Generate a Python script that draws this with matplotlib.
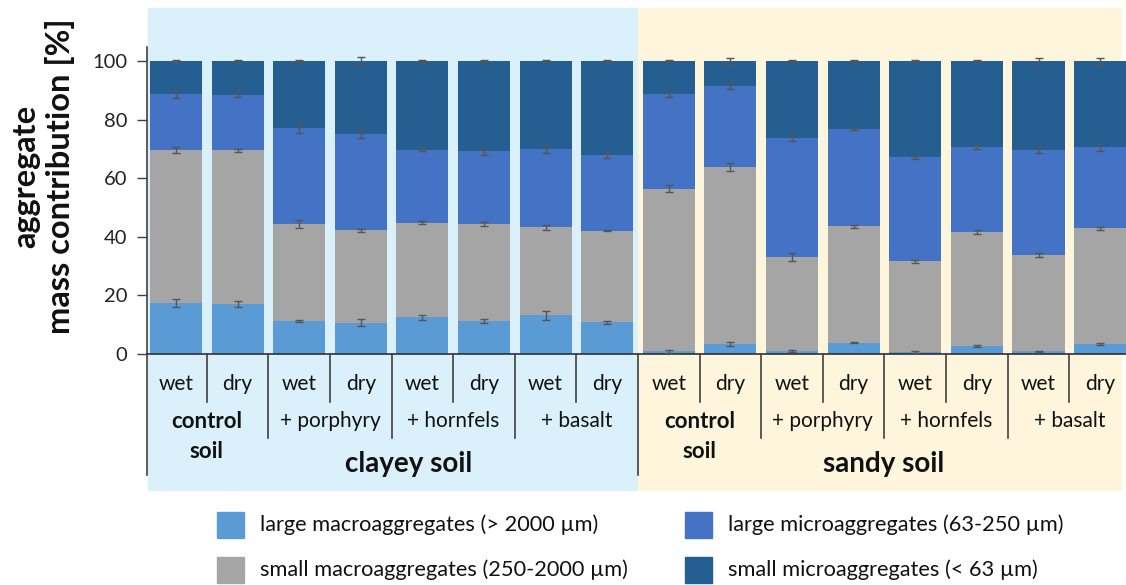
import numpy as np
import matplotlib
matplotlib.use('Agg')
import matplotlib.pyplot as plt
from matplotlib.patches import Rectangle
from matplotlib.lines import Line2D
import matplotlib.transforms as mtransforms

plt.rcParams['font.family'] = ['Lato', 'DejaVu Sans']

# bar labels
moisture = ['wet', 'dry'] * 8
treatments = ['control\nsoil', '+ porphyry', '+ hornfels', '+ basalt'] * 2
soils = ['clayey soil', 'sandy soil']

# segment values [%], bottom to top
large_macro = [17.5, 17.1, 11.3, 10.6, 12.5, 11.3, 13.2, 10.8,
               0.9, 3.5, 1.0, 3.9, 0.6, 2.7, 0.9, 3.5]
small_macro = [52.1, 52.5, 33.1, 31.7, 32.3, 33.0, 30.0, 31.3,
               55.5, 60.2, 32.1, 39.7, 31.1, 38.9, 33.0, 39.4]
large_micro = [19.0, 18.8, 32.6, 32.9, 24.8, 24.9, 26.9, 25.7,
               32.3, 27.9, 40.7, 33.2, 35.4, 29.2, 35.7, 27.6]
small_micro = [11.4, 11.6, 23.0, 24.8, 30.4, 30.8, 29.9, 32.2,
               11.3, 8.4, 26.2, 23.2, 32.9, 29.2, 30.4, 29.5]

# standard errors at top of each segment
err_large_macro = [1.4, 1.0, 0.4, 1.2, 0.9, 0.8, 1.6, 0.6,
                   0.5, 0.6, 0.2, 0.2, 0.4, 0.3, 0.2, 0.4]
err_small_macro = [0.9, 0.5, 1.4, 0.5, 0.5, 0.7, 0.9, 0.2,
                   1.2, 1.4, 1.5, 0.6, 0.5, 0.6, 0.7, 0.6]
err_large_micro = [1.2, 0.7, 1.7, 1.5, 0.3, 1.2, 1.5, 0.9,
                   0.8, 1.1, 1.2, 0.4, 0.4, 0.9, 0.9, 1.1]
err_small_micro = [0.5, 0.2, 0.3, 1.3, 0.2, 0.2, 0.4, 0.2,
                   0.3, 0.9, 0.3, 0.2, 0.2, 0.3, 1.1, 1.0]

series = [
    ('large macroaggregates (> 2000 µm)', large_macro, err_large_macro, '#5b9bd5'),
    ('small macroaggregates (250-2000 µm)', small_macro, err_small_macro, '#a5a5a5'),
    ('large microaggregates (63-250 µm)', large_micro, err_large_micro, '#4472c4'),
    ('small microaggregates (< 63 µm)', small_micro, err_small_micro, '#255e91'),
]

W, H = 1126, 585
fig = plt.figure(figsize=(W / 100, H / 100), dpi=100)


def fx(px):
    return px / W


def fy(py):
    return 1 - py / H


# background panels (behind the axes)
fig.patches.append(Rectangle((fx(148), fy(490)), fx(638 - 148), (490 - 8) / H,
                             transform=fig.transFigure, color='#daf1fb', zorder=-5))
fig.patches.append(Rectangle((fx(638), fy(490)), fx(1121 - 638), (490 - 8) / H,
                             transform=fig.transFigure, color='#fdf5dc', zorder=-5))

ax = fig.add_axes([fx(147), fy(354), fx(1126 - 147), (354 - 47) / H])
ax.patch.set_alpha(0)
ax.set_zorder(1)

x = np.arange(16)
bottom = np.zeros(16)
for label, vals, errs, col in series:
    vals = np.array(vals)
    ax.bar(x, vals, 0.845, bottom=bottom, color=col, label=label, zorder=2)
    bottom = bottom + vals
    ax.errorbar(x, bottom, yerr=errs, fmt='none', ecolor='#555555',
                elinewidth=1, capsize=3, capthick=1, zorder=3)

ax.set_xlim(-0.47, 15.42)
ax.set_ylim(0, 104.8)
ax.set_yticks([0, 20, 40, 60, 80, 100])
ax.tick_params(axis='y', length=7, width=1, color='#404040', pad=7,
               labelsize=14.5, labelcolor='#222222')
ax.set_xticks([])
for s in ['top', 'right', 'bottom']:
    ax.spines[s].set_visible(False)
ax.spines['left'].set_color('#404040')
ax.spines['left'].set_linewidth(1.2)

# category axis drawn below the bars
trans = mtransforms.blended_transform_factory(ax.transData, fig.transFigure)
ax.add_line(Line2D([-0.47, 15.42], [fy(354), fy(354)], transform=trans,
                   color='#303030', lw=1.2, clip_on=False))
ax.add_line(Line2D([-0.47, -0.47], [fy(354), fy(475)], transform=trans,
                   color='#404040', lw=1.2, clip_on=False))
for i in range(16):
    ax.text(i, fy(384), moisture[i], transform=trans, ha='center', va='center',
            fontsize=15, color='#111111')
for i in range(0, 16, 2):
    ax.add_line(Line2D([i + 0.5, i + 0.5], [fy(354), fy(402)], transform=trans,
                       color='#404040', lw=1.2, clip_on=False))
for xs in [1.5, 3.5, 5.5, 9.5, 11.5, 13.5]:
    ax.add_line(Line2D([xs, xs], [fy(354), fy(438)], transform=trans,
                       color='#404040', lw=1.2, clip_on=False))
ax.add_line(Line2D([7.5, 7.5], [fy(354), fy(475)], transform=trans,
                   color='#404040', lw=1.2, clip_on=False))
for j, t in enumerate(treatments):
    xc = 2 * j + 0.5
    if t.startswith('control'):
        ax.text(xc, fy(422), 'control', transform=trans, ha='center', va='center',
                fontsize=16, fontweight='bold', color='#111111')
        ax.text(xc, fy(451), 'soil', transform=trans, ha='center', va='center',
                fontsize=16, fontweight='bold', color='#111111')
    else:
        ax.text(xc, fy(421), t, transform=trans, ha='center', va='center',
                fontsize=15, color='#111111')
ax.text(3.77, fy(464), soils[0], transform=trans, ha='center', va='center',
        fontsize=20, fontweight='bold', color='#111111')
ax.text(11.48, fy(464), soils[1], transform=trans, ha='center', va='center',
        fontsize=20, fontweight='bold', color='#111111')

# y label
fig.text(fx(43), fy(176), 'aggregate\nmass contribution [%]', rotation=90,
         ha='center', va='center', fontsize=23.5, fontweight='bold',
         linespacing=1.2, color='#111111')

# legend drawn by hand
leg_pos = [(217, 512, 260), (217, 557, 260), (685, 512, 728), (685, 557, 728)]
for (label, vals, errs, col), (px, py, tx) in zip(series, leg_pos):
    fig.patches.append(Rectangle((fx(px), fy(py + 26)), fx(27), 26 / H,
                                 transform=fig.transFigure, color=col))
    fig.text(fx(tx), fy(py + 13), label, ha='left', va='center',
             fontsize=15.7, color='#111111')

fig.savefig('out.png', dpi=100)
